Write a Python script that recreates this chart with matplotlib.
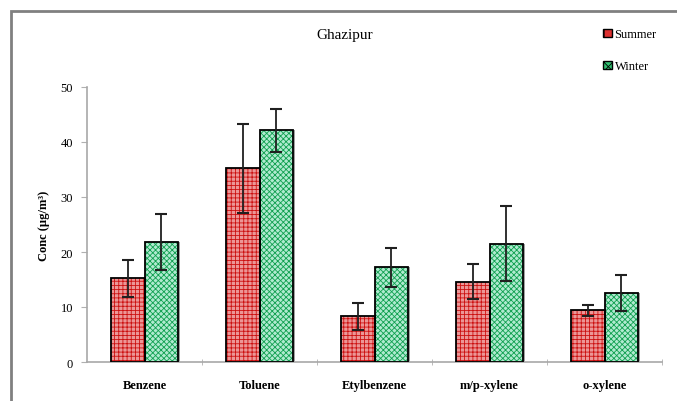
import matplotlib
matplotlib.use("Agg")
import matplotlib.pyplot as plt
import numpy as np
from matplotlib.patches import Rectangle, Patch

categories = ["Benzene", "Toluene", "Etylbenzene", "m/p-xylene", "o-xylene"]
summer = [15.2, 35.2, 8.3, 14.6, 9.4]
summer_err = [3.3, 8.1, 2.5, 3.2, 0.95]
winter = [21.8, 42.1, 17.2, 21.5, 12.6]
winter_err = [5.1, 3.9, 3.6, 6.8, 3.25]
yticks = [0, 10, 20, 30, 40, 50]

plt.rcParams['font.family'] = ['Liberation Serif', 'DejaVu Serif']
plt.rcParams['hatch.linewidth'] = 0.6

fig = plt.figure(figsize=(6.77, 4.02), dpi=100)
fig.patches.append(Rectangle((11/677, -0.05), 1.2, (1 - 12/402) + 0.05,
                             transform=fig.transFigure, fill=False,
                             edgecolor='#808080', linewidth=2))
ax = fig.add_axes([87/677, 1 - 363/402, (662 - 87)/677, (363 - 88)/402])

x = np.arange(len(categories))
w = 0.29
# shadows
ax.bar(x - w/2 + 0.02, summer, w, color='#a0a0a0', zorder=1, linewidth=0)
ax.bar(x + w/2 + 0.02, winter, w, color='#a0a0a0', zorder=1, linewidth=0)

ax.bar(x - w/2, summer, w, facecolor='#ec9696', edgecolor='#cc1010',
       hatch='++++', linewidth=0, zorder=2, label='Summer')
ax.bar(x + w/2, winter, w, facecolor='#b0ead0', edgecolor='#10a050',
       hatch='xxxxxx', linewidth=0, zorder=2, label='Winter')
ax.bar(x - w/2, summer, w, facecolor='none', edgecolor='black', linewidth=1.3, zorder=3)
ax.bar(x + w/2, winter, w, facecolor='none', edgecolor='black', linewidth=1.3, zorder=3)

ax.errorbar(x - w/2, summer, yerr=summer_err, fmt='none', ecolor='#202020',
            elinewidth=1.3, capsize=4, capthick=1.5, zorder=4)
ax.errorbar(x + w/2, winter, yerr=winter_err, fmt='none', ecolor='#202020',
            elinewidth=1.3, capsize=4, capthick=1.5, zorder=4)

ax.set_xlim(-0.5, len(categories) - 0.5)
ax.set_ylim(0, 50)
ax.set_yticks(yticks)
ax.set_yticklabels([str(t) for t in yticks], fontsize=9)
ax.set_xticks(x)
ax.set_xticklabels(categories, fontsize=9, fontweight='bold')
ax.tick_params(axis='x', length=0, pad=12)
ax.set_xticks(np.arange(len(categories)) + 0.5, minor=True)
ax.tick_params(axis='x', which='minor', length=4, color='#b0b0b0', direction='inout')
ax.tick_params(axis='y', length=4, color='#b0b0b0', pad=6)
for s in ['top', 'right']:
    ax.spines[s].set_visible(False)
for s in ['left', 'bottom']:
    ax.spines[s].set_color('#a8a8a8')
    ax.spines[s].set_linewidth(1.2)

ax.set_ylabel('Conc (µg/m³)', fontsize=9, fontweight='bold', labelpad=8)

fig.text(345/677, 1 - 36/402, 'Ghazipur', ha='center', va='center', fontsize=11)

h1 = Patch(facecolor='#dd3030', edgecolor='black', hatch='++')
h2 = Patch(facecolor='#30c070', edgecolor='black', hatch='xxxx')
fig.legend([h1, h2], ['Summer', 'Winter'], loc='upper left',
           bbox_to_anchor=(592/677, 1 - 18/402), frameon=False,
           fontsize=9, handlelength=0.7, handleheight=0.7,
           handletextpad=0.2, labelspacing=1.6)

fig.savefig('out.png', dpi=100)
